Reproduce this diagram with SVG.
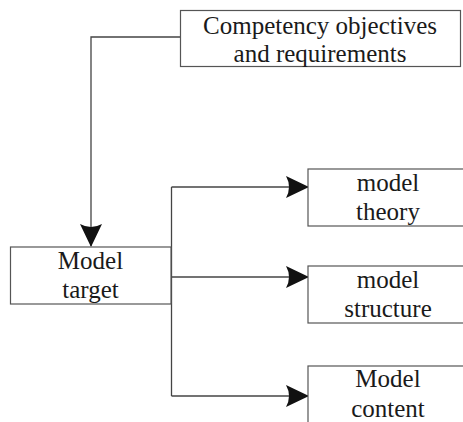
<svg xmlns="http://www.w3.org/2000/svg" width="463" height="422" viewBox="0 0 463 422">
<style>
.box{fill:#fff;stroke:#555;stroke-width:1.2}
.lbl{font-family:"Liberation Serif","Times New Roman",serif;font-size:25px;fill:#1a1a1a;text-anchor:middle}
.conn{fill:none;stroke:#444;stroke-width:1.3}
</style>
<defs>
<marker id="ah" markerUnits="userSpaceOnUse" markerWidth="26" markerHeight="26" viewBox="-24 -13 26 26" refX="0" refY="0" orient="auto">
<path d="M1,0 L-22,-11 Q-16,0 -22,11 Z" fill="#111"/>
</marker>
</defs>
<g id="connectors">
<path class="conn" d="M180,37 H91 V246" marker-end="url(#ah)"/>
<path class="conn" d="M171.5,187 V396"/>
<path class="conn" d="M171.5,187 H308" marker-end="url(#ah)"/>
<path class="conn" d="M171.5,277 H308" marker-end="url(#ah)"/>
<path class="conn" d="M171.5,396 H308" marker-end="url(#ah)"/>
</g>
<g id="competency">
<rect class="box" x="180.5" y="10.5" width="280" height="56"/>
<text class="lbl" x="320" y="33.5">Competency objectives</text>
<text class="lbl" x="320" y="61.5">and requirements</text>
</g>
<g id="model-target">
<rect class="box" x="10.5" y="247" width="160.5" height="57"/>
<text class="lbl" x="90.5" y="268.5">Model</text>
<text class="lbl" x="90.5" y="297.5">target</text>
</g>
<g id="model-theory">
<rect class="box" x="308" y="169" width="162" height="57"/>
<text class="lbl" x="388" y="191">model</text>
<text class="lbl" x="388" y="220">theory</text>
</g>
<g id="model-structure">
<rect class="box" x="308" y="266" width="162" height="57"/>
<text class="lbl" x="388" y="288">model</text>
<text class="lbl" x="388" y="317">structure</text>
</g>
<g id="model-content">
<rect class="box" x="308" y="366" width="162" height="70"/>
<text class="lbl" x="388" y="387">Model</text>
<text class="lbl" x="388" y="416.5">content</text>
</g>
</svg>
